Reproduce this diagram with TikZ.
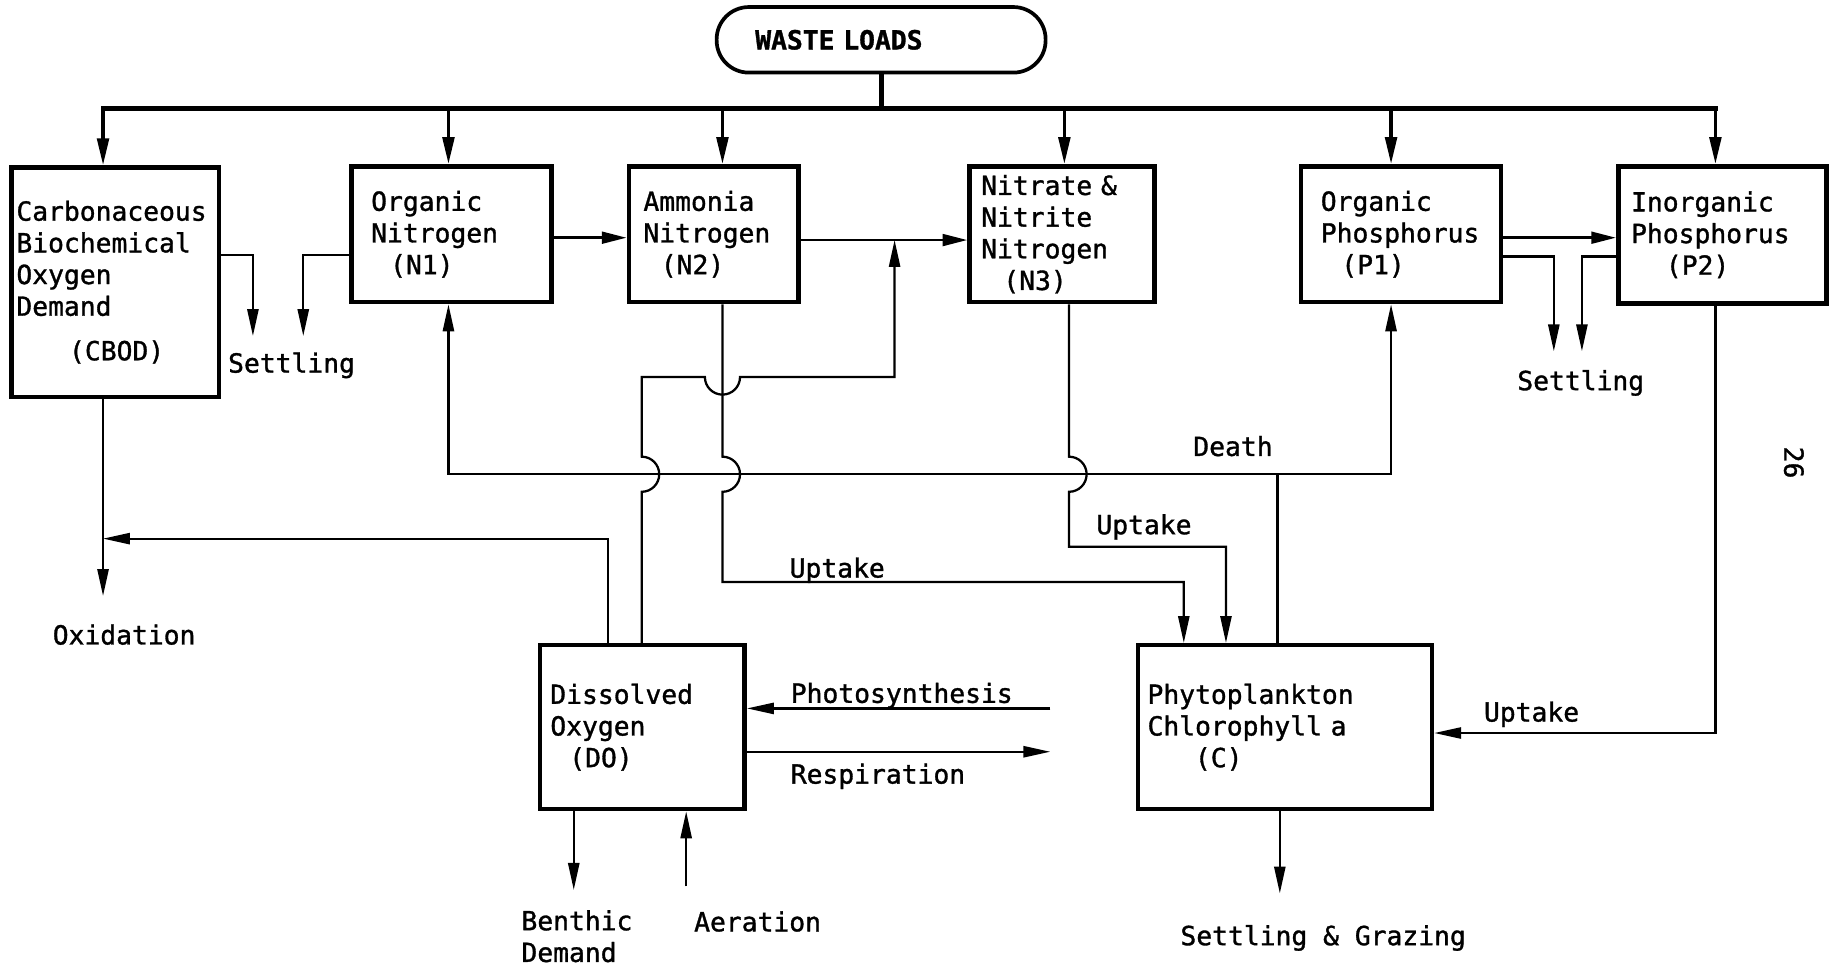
\documentclass[tikz,border=0pt]{standalone}
\usepackage{fontspec}
\setmainfont{DejaVu Sans Mono}[FakeBold=1.2]
\usetikzlibrary{arrows.meta,positioning}
\newcommand{\wqfont}{\fontsize{12.8pt}{15.4pt}\selectfont}

\begin{document}
\begin{tikzpicture}[x=0.02cm,y=-0.02cm,
  blk/.style={draw,line width=2.2pt,align=left,inner ysep=0pt,font=\wqfont},
  bus/.style={line width=2.4pt},
  feed/.style={line width=1.6pt,-{Triangle[length=0.46cm,width=0.2cm]}},
  pass/.style={line width=1.3pt,-{Triangle[length=0.42cm,width=0.2cm]}},
  flow/.style={line width=1.1pt,-{Triangle[length=0.46cm,width=0.19cm]}},
  link/.style={line width=1.1pt},
  lab/.style={font=\wqfont,inner sep=0pt}]
  \useasboundingbox (0,0) rectangle (1568,826);
  % Source
  \node[draw,line width=1.8pt,rounded corners=0.55cm,minimum height=1.12cm,
    text width=4.3cm,inner xsep=0.66cm,align=left,font=\wqfont\bfseries]
    (waste) at (752.5,34) {WASTE LOADS};
  % State variables
  \node[blk,minimum height=3.92cm,text width=3.38cm,inner xsep=0.08cm] (cbod) at (98.5,241)
    {Carbonaceous\\Biochemical\\Oxygen\\Demand\\[0.22cm]\hspace*{2em}(CBOD)};
  \node[blk,minimum height=2.32cm,text width=2.74cm,inner xsep=0.34cm] (norg) at (385.5,200)
    {Organic\\Nitrogen\\\hspace*{0.72em}(N1)};
  \node[blk,minimum height=2.32cm,text width=2.4cm,inner xsep=0.25cm] (nh) at (609.5,200)
    {Ammonia\\Nitrogen\\\hspace*{0.66em}(N2)};
  \node[blk,minimum height=2.32cm,text width=2.76cm,inner xsep=0.2cm] (no) at (907,200)
    {Nitrate \&\\Nitrite\\Nitrogen\\\hspace*{0.84em}(N3)};
  \node[blk,minimum height=2.32cm,text width=2.74cm,inner xsep=0.34cm] (porg) at (1196.5,200)
    {Organic\\Phosphorus\\\hspace*{0.78em}(P1)};
  \node[blk,minimum height=2.34cm,text width=3.12cm,inner xsep=0.22cm] (pinorg) at (1471,200.5)
    {Inorganic\\Phosphorus\\\hspace*{1.32em}(P2)};
  \node[blk,minimum height=2.8cm,text width=3.14cm,inner xsep=0.18cm] (dox) at (548.5,621)
    {Dissolved\\Oxygen\\\hspace*{0.72em}(DO)};
  \node[blk,minimum height=2.8cm,text width=4.7cm,inner xsep=0.16cm] (phyto) at (1097.5,621)
    {Phytoplankton\\Chlorophyll a\\\hspace*{1.8em}(C)};

  % Loads bus
  \coordinate (busL) at (88,93);
  \coordinate (busR) at (1465,93);
  \draw[bus] (waste.south) -- (waste.south |- busL);
  \draw[bus,line cap=rect] (busL) -- (busR);
  \foreach \bx/\bn in {88/cbod,383/norg,617/nh,909/no,1188/porg,1465/pinorg}
    \draw[feed] (\bx,93) -- (\bx,0 |- \bn.north);

  % Transformations
  \draw[pass] (norg.east |- 0,203) -- (nh.west |- 0,203);
  \draw[pass] (nh.east |- 0,205) -- (no.west |- 0,205);
  \draw[pass] (porg.east |- 0,203) -- (pinorg.west |- 0,203);

  % Settling
  \coordinate (setA) at (216,287);
  \coordinate (setB) at (259,287);
  \coordinate (setC) at (1327,300);
  \coordinate (setD) at (1351,300);
  \draw[flow] (cbod.east |- 0,218) -| (setA);
  \draw[flow] (norg.west |- 0,218) -| (setB);
  \draw[flow] (porg.east |- 0,219) -| (setC);
  \draw[flow] (pinorg.west |- 0,219) -| (setD);
  \node[lab] (settleA) at (249,312) {Settling};
  \node[lab] (settleB) at (1350,327) {Settling};

  % Oxidation
  \coordinate (oxtip) at (88,509);
  \coordinate (oxjoin) at (88,460);
  \draw[flow] (88,0 |- cbod.south) -- (oxtip);
  \draw[flow] (519,0 |- dox.north) |- (oxjoin);
  \node[lab] (oxid) at (106,542) {Oxidation};

  % Oxygen to nitrification
  \coordinate (nxjoin) at (764,205);
  \draw[flow] (548,0 |- dox.north) -- (548,420) arc[start angle=90,end angle=-90,radius=15]
    -- (548,322) -- (602,322) arc[start angle=180,end angle=0,radius=15]
    -- (764,322) -- (nxjoin);

  % Nutrient uptake
  \draw[flow] (617,0 |- nh.south) -- (617,390) arc[start angle=-90,end angle=90,radius=15]
    -- (617,497) -| (1011,0 |- phyto.north);
  \draw[flow] (913,0 |- no.south) -- (913,390) arc[start angle=-90,end angle=90,radius=15]
    -- (913,467) -| (1047,0 |- phyto.north);
  \draw[flow] (1465,0 |- pinorg.south) |- (phyto.east |- 0,626);
  \node[lab] (uptkA) at (715,487) {Uptake};
  \node[lab] (uptkB) at (977,450) {Uptake};
  \node[lab] (uptkC) at (1308,610) {Uptake};

  % Death
  \coordinate (dj) at (1091,405);
  \draw[link] (1091,0 |- phyto.north) -- (dj);
  \draw[flow] (dj) -| (1188,0 |- porg.south);
  \draw[flow] (dj) -| (383,0 |- norg.south);
  \node[lab] (deathl) at (1053,381) {Death};

  % Algae and oxygen
  \coordinate (psin) at (897,605);
  \coordinate (rsout) at (897,642);
  \draw[flow] (psin) -- (dox.east |- psin);
  \draw[flow] (dox.east |- rsout) -- (rsout);
  \node[lab,anchor=west] (phl) at (675,594) {Photosynthesis};
  \node[lab,anchor=west] (rsl) at (675,663) {Respiration};

  % Sinks and sources
  \coordinate (bentip) at (490,760);
  \coordinate (aertail) at (586,757);
  \coordinate (sgtip) at (1093,763);
  \draw[flow] (490,0 |- dox.south) -- (bentip);
  \draw[flow] (aertail) -- (586,0 |- dox.south);
  \draw[flow] (1093,0 |- phyto.south) -- (sgtip);
  \node[lab,anchor=north west,align=left] (benl) at (445,777) {Benthic\\Demand};
  \node[lab] (aerl) at (647,787) {Aeration};
  \node[lab] (sgl) at (1130,801) {Settling \& Grazing};

  % Page number
  \node[lab,rotate=-90] (pg) at (1532,395) {26};
\end{tikzpicture}
\end{document}
